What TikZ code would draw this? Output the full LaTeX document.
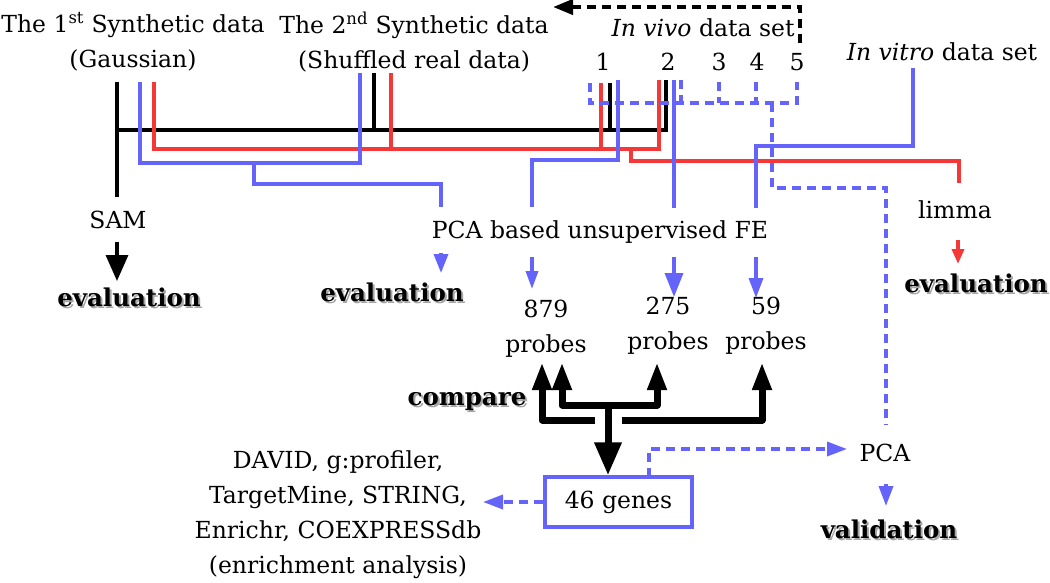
\documentclass[tikz,border=0pt]{standalone}
\usepackage{fontspec}
\setmainfont{DejaVu Serif}
\usetikzlibrary{arrows.meta}
\definecolor{cblue}{RGB}{100,100,250}
\definecolor{cred}{RGB}{245,55,55}
\newcommand{\shd}[1]{\leavevmode\rlap{\kern2pt\raisebox{-2pt}{\textcolor{black!35}{#1}}}#1}
\begin{document}
\begin{tikzpicture}[x=1pt,y=-1pt,
  every node/.style={inner sep=0pt, font=\fontsize{23.5}{35}\selectfont, align=center},
  ln/.style={line width=3.5pt},
  lblk/.style={ln,black},
  lred/.style={ln,cred},
  lblu/.style={ln,cblue},
  bdash/.style={ln,cblue,dash pattern=on 9pt off 6pt},
  kdash/.style={line width=4pt,black,dash pattern=on 9pt off 6pt},
  boldlbl/.style={font=\fontsize{24.5}{35}\selectfont\bfseries},
  fat/.style={line width=7pt, line join=round},
  fattip/.style={-{Triangle[length=28pt,width=18pt]}},
]
\useasboundingbox (0,0) rectangle (1050,582);

% ---- texts ----
\node (t1) at (133,42) {The 1\textsuperscript{st} Synthetic data\\(Gaussian)};
\node (t2) at (414,42) {The 2\textsuperscript{nd} Synthetic data\\(Shuffled real data)};
\node (vivo) at (703,28) {\textit{In vivo} data set};
\node (n1) at (603,62) {1};
\node (n2) at (668,62) {2};
\node (n3) at (719,62) {3};
\node (n4) at (757,62) {4};
\node (n5) at (797,62) {5};
\node (vitro) at (942,52) {\textit{In vitro} data set};
\node (sam) at (118,220) {SAM};
\node[boldlbl] (ev1) at (129,298) {\shd{evaluation}};
\node (pca) at (600,232) {PCA based unsupervised FE};
\node[boldlbl] (ev2) at (392,293) {\shd{evaluation}};
\node (limma) at (955,210) {limma};
\node[boldlbl] (ev3) at (976,284) {\shd{evaluation}};
\node (p879) at (546,329) {879\\probes};
\node (p275) at (668,326) {275\\probes};
\node (p59) at (766,326) {59\\probes};
\node[boldlbl] (cmp) at (467,403) {\shd{compare}};
\node[draw=cblue, line width=3.5pt, minimum width=147pt, minimum height=50pt] (genes) at (618.5,502) {46 genes};
\node (enr) at (338,515) {DAVID, g:profiler,\\TargetMine, STRING,\\Enrichr, COEXPRESSdb\\(enrichment analysis)};
\node (pca2) at (885,453) {PCA};
\node[boldlbl] (val) at (889,530) {\shd{validation}};

% ---- black lines ----
\draw[lblk] (117,82) -- (117,197);
\draw[lblk] (117,130) -- (666,130) -- (666,80);
\draw[lblk] (374,73) -- (374,130);
\draw[lblk] (610,83) -- (610,130);
\draw[black, -{Triangle[length=26pt,width=22pt]}, line width=3.5pt] (117,242) -- (117,281);

% ---- red lines ----
\draw[lred] (154,82) -- (154,149) -- (659,149) -- (659,80);
\draw[lred] (391,73) -- (391,149);
\draw[lred] (601,83) -- (601,149);
\draw[lred] (631,149) -- (631,161) -- (959,161) -- (959,183);
\draw[lred, -{Triangle[length=15pt,width=12pt]}] (958,240) -- (958,264);

% ---- blue lines ----
\draw[lblu] (140,82) -- (140,163) -- (360,163) -- (360,73);
\draw[lblu] (254,163) -- (254,184) -- (441,184) -- (441,207);
\draw[lblu, -{Triangle[length=19pt,width=14pt]}] (441,253) -- (441,273);
\draw[lblu] (618,80) -- (618,160) -- (532,160) -- (532,207);
\draw[lblu, -{Triangle[length=18pt,width=12pt]}] (532,257) -- (532,289);
\draw[lblu] (674,80) -- (674,208);
\draw[lblu, -{Triangle[length=24pt,width=18pt]}] (674,257) -- (674,297);
\draw[lblu] (913,68) -- (913,146) -- (756,146) -- (756,208);
\draw[lblu, -{Triangle[length=20pt,width=14pt]}] (756,257) -- (756,298);

% ---- blue dashed ----
\draw[bdash] (590,83) -- (590,103) -- (797,103) -- (797,82);
\draw[bdash] (681,80) -- (681,103);
\draw[bdash] (719,82) -- (719,103);
\draw[bdash] (756,82) -- (756,103);
\draw[bdash] (772,103) -- (772,188) -- (886,188) -- (886,425);
\draw[lblu, -{Triangle[length=20pt,width=14pt]}] (886,484) -- (886,506);
\draw[bdash, -{Triangle[length=20pt,width=14pt]}] (649,477) -- (649,449) -- (847,449);
\draw[bdash, -{Triangle[length=20pt,width=14pt]}] (genes.west) -- (483,502);

% ---- black dashed ----
\draw[kdash, -{Triangle[length=20pt,width=15pt]}] (800,43) -- (800,7) -- (553,7);

% ---- compare arrows ----
\draw[fat, fattip] (595,420) -- (542,420) -- (542,362);
\draw[fat, fattip] (622,420) -- (762,420) -- (762,362);
\draw[fat, {Triangle[length=28pt,width=18pt]}-{Triangle[length=28pt,width=18pt]}] (562,362) -- (562,405) -- (657,405) -- (657,362);
\draw[fat, -{Triangle[length=33pt,width=26pt]}] (608,405) -- (genes.north -| 608,0);
\end{tikzpicture}
\end{document}
